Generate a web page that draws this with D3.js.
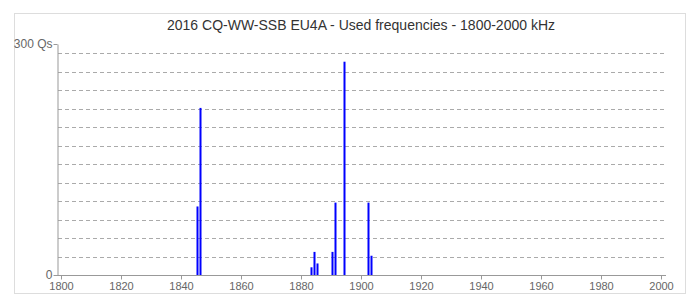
<!DOCTYPE html>
<html>
<head>
<meta charset="utf-8">
<script src="https://cdn.jsdelivr.net/npm/d3@7"></script>
<style>
  body { margin: 0; background: #fff; }
  svg { font-family: "Liberation Sans", Arial, sans-serif; }
  .tick text { fill: #666; font-size: 11px; }
</style>
</head>
<body>
<div id="chart"></div>
<script>
const title = '2016 CQ-WW-SSB EU4A - Used frequencies - 1800-2000 kHz';

// kHz and QSO counts per frequency
const freqs = [1845, 1846, 1883, 1884, 1885, 1890, 1891, 1894, 1902, 1903];
const qsos = [89, 217, 10, 30, 15, 30, 94, 277, 94, 25];

const xTicks = [1800, 1820, 1840, 1860, 1880, 1900, 1920, 1940, 1960, 1980, 2000];
const yTicks = [0, 300];
const gridStep = 24;

const width = 699;
const height = 306;

const svg = d3.select('#chart')
    .append('svg')
    .attr('width', width)
    .attr('height', height);

svg.append('rect')
    .attr('x', 14.5)
    .attr('y', 13.5)
    .attr('width', 671)
    .attr('height', 280)
    .attr('fill', 'none')
    .attr('stroke', '#ddd');

svg.append('text')
    .attr('x', 361)
    .attr('y', 30)
    .attr('text-anchor', 'middle')
    .attr('font-size', '14px')
    .attr('fill', '#333')
    .text(title);

const x = d3.scaleLinear().domain([1800, 2000]).range([61, 661]);
const y = d3.scaleLinear().domain([0, 300]).range([275, 44]);

const left = 57, right = 666;

// dashed grid
const grid = d3.range(gridStep, 300, gridStep);
svg.append('g')
    .selectAll('line')
    .data(grid)
    .enter().append('line')
    .attr('x1', left + 1)
    .attr('x2', right)
    .attr('y1', (d) => Math.round(y(d)) + 0.5)
    .attr('y2', (d) => Math.round(y(d)) + 0.5)
    .attr('stroke', '#aaa')
    .attr('stroke-dasharray', '4,3');

// bars
svg.append('g')
    .selectAll('rect')
    .data(freqs)
    .enter().append('rect')
    .attr('x', (d) => x(d) + 0.5)
    .attr('width', 2)
    .attr('y', (d, i) => y(qsos[i]))
    .attr('height', (d, i) => y(0) - y(qsos[i]))
    .attr('fill', '#0000ff');

const xAxis = svg.append('g')
    .attr('transform', 'translate(0,' + (y(0) + 0.5) + ')')
    .call(d3.axisBottom(x).tickValues(xTicks).tickSize(4).tickSizeOuter(0).tickFormat(d3.format('d')));
xAxis.select('.domain').remove();
xAxis.selectAll('.tick line').attr('stroke', '#999');

svg.append('line')
    .attr('x1', left)
    .attr('x2', right)
    .attr('y1', y(0) + 0.5)
    .attr('y2', y(0) + 0.5)
    .attr('stroke', '#999');

const yAxis = svg.append('g')
    .attr('transform', 'translate(' + (left + 0.5) + ',0)')
    .call(d3.axisLeft(y).tickValues(yTicks).tickSize(4).tickSizeOuter(0)
        .tickFormat((d) => d === 0 ? '0' : d + ' Qs'));
yAxis.select('.domain').attr('stroke', '#999');
yAxis.selectAll('.tick line').attr('stroke', '#999');
yAxis.selectAll('.tick text').attr('x', -5).style('font-size', '12px');
</script>
</body>
</html>
